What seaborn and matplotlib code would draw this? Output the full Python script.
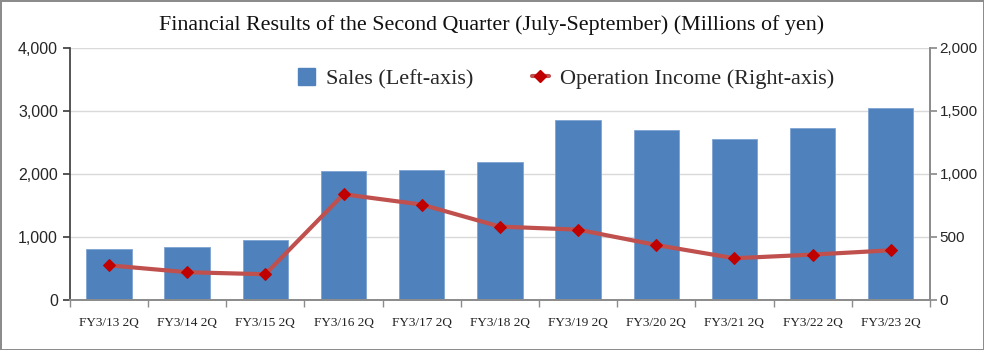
import matplotlib
matplotlib.use("Agg")
import matplotlib.pyplot as plt
import seaborn as sns
import pandas as pd
from matplotlib.lines import Line2D
from matplotlib.patches import Patch
from matplotlib.ticker import FuncFormatter

# data
periods = ['FY3/13 2Q', 'FY3/14 2Q', 'FY3/15 2Q', 'FY3/16 2Q', 'FY3/17 2Q', 'FY3/18 2Q',
           'FY3/19 2Q', 'FY3/20 2Q', 'FY3/21 2Q', 'FY3/22 2Q', 'FY3/23 2Q']
sales = [810, 840, 950, 2050, 2065, 2190, 2850, 2705, 2555, 2730, 3050]
operating_income = [275, 220, 204, 839, 757, 582, 558, 436, 331, 360, 394]

df = pd.DataFrame({'period': periods, 'sales': sales, 'income': operating_income})

sns.set_theme(style="white")
serif = ['Liberation Serif', 'DejaVu Serif']
sans = ['Liberation Sans', 'DejaVu Sans']

fig, ax1 = plt.subplots(figsize=(9.84, 3.5), dpi=100)
fig.subplots_adjust(left=0.071, right=0.945, bottom=0.143, top=0.863)
fig.patch.set_edgecolor('#8c8c8c')
fig.patch.set_linewidth(2)

bar_color = '#4F81BD'
line_color = '#C0504D'
marker_color = '#C00000'

sns.barplot(x='period', y='sales', data=df, color=bar_color, ax=ax1, width=0.58,
            saturation=1, edgecolor='#7ea3d3', linewidth=0.6, zorder=2)
ax1.set_ylim(0, 4000)
ax1.set_yticks([0, 1000, 2000, 3000, 4000])
ax1.yaxis.set_major_formatter(FuncFormatter(lambda v, p: f'{int(v):,}'))
ax1.grid(axis='y', color='#d9d9d9', linewidth=1, zorder=0)
ax1.set_axisbelow(True)
ax1.set_xlim(-0.5, len(periods) - 0.5)
ax1.set_xlabel('')
ax1.set_ylabel('')

ax2 = ax1.twinx()
sns.lineplot(x='period', y='income', data=df, ax=ax2, color=line_color, linewidth=3,
             marker='D', markersize=6, markerfacecolor=marker_color,
             markeredgecolor=marker_color, zorder=3)
ax2.set_ylim(0, 2000)
ax2.set_yticks([0, 500, 1000, 1500, 2000])
ax2.yaxis.set_major_formatter(FuncFormatter(lambda v, p: f'{int(v):,}'))
ax2.set_xlim(-0.5, len(periods) - 0.5)
ax2.set_ylabel('')
ax2.grid(False)

# category ticks between bars, Excel style
ax1.set_xticks(range(len(periods)))
ax1.set_xticklabels(periods, fontfamily=serif, fontsize=9.5, color='#222222')
ax1.set_xticks([i - 0.5 for i in range(len(periods) + 1)], minor=True)
ax1.tick_params(axis='x', which='major', length=0, pad=12)
ax1.tick_params(axis='x', which='minor', length=5, color='#8c8c8c', direction='out', bottom=True)
ax1.tick_params(axis='y', length=5, color='#404040', direction='out', left=True, labelsize=11.5)
ax2.tick_params(axis='y', length=5, color='#8c8c8c', direction='out', right=True,
                labelsize=11, pad=2)
for lab in ax1.get_yticklabels() + ax2.get_yticklabels():
    lab.set_fontfamily(sans)

for ax in (ax1, ax2):
    ax.spines['top'].set_visible(False)
    ax.spines['bottom'].set_color('#8c8c8c')
    ax.spines['left'].set_color('#404040')
    ax.spines['right'].set_color('#8c8c8c')
ax2.spines['left'].set_visible(False)

handles = [Patch(facecolor=bar_color, edgecolor=bar_color),
           Line2D([0], [0], color=line_color, linewidth=3, marker='D', markersize=6,
                  markerfacecolor=marker_color, markeredgecolor=marker_color)]
ax2.legend(handles, ['Sales (Left-axis)', 'Operation Income (Right-axis)'],
           loc='upper center', bbox_to_anchor=(0.577, 1.0), ncol=2, frameon=False,
           prop={'family': serif, 'size': 16}, handlelength=0.8, handleheight=0.8,
           columnspacing=2.6, handletextpad=0.5)

fig.suptitle('Financial Results of the Second Quarter (July-September) (Millions of yen)',
             fontfamily=serif, fontsize=15.8, y=0.958, color='#111111')

fig.savefig('out.png', dpi=100, edgecolor=fig.get_edgecolor())
